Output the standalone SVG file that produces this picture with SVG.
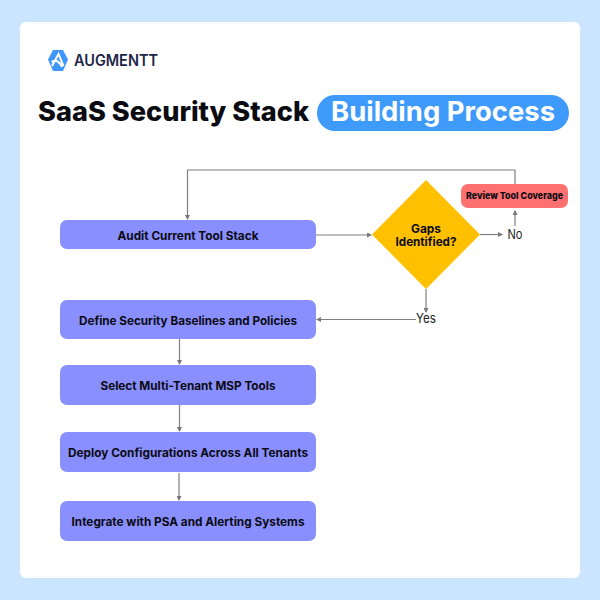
<svg xmlns="http://www.w3.org/2000/svg" width="600" height="600" viewBox="0 0 600 600">
<style>
text{font-family:"Inter","Liberation Sans",sans-serif;font-weight:700;fill:#0b0b12;text-anchor:middle}
.n{fill:#8a8fff}
.l{font-size:12px}
.c{fill:none;stroke:#808080;stroke-width:1.2}
.e{font-weight:400;font-size:13px;fill:#222}
</style>
<defs><marker id="a" markerWidth="5" markerHeight="5" refX="4" refY="2.500" orient="auto" markerUnits="userSpaceOnUse"><path d="M0 0L5 2.500L0 5Z" fill="#777"/></marker></defs>
<rect width="600" height="600" fill="#cce5ff"/>
<rect x="20" y="22" width="560" height="556" rx="6" fill="#fff"/>
<g id="logo">
<path d="M53 50H63L68 59.500L63 71H53L48 59.500Z" fill="#3f97fb"/>
<path d="M52 66L58.500 54L63.500 66M51.500 62C56 59 60 62 62 67" fill="none" stroke="#fff" stroke-width="2"/>
<text x="116" y="65.500" style="font-size:15.500px;fill:#1d2547;font-weight:600" textLength="84" lengthAdjust="spacingAndGlyphs">AUGMENTT</text>
</g>
<g id="title">
<text x="173.500" y="121" style="font-size:27px;font-weight:800" textLength="271" lengthAdjust="spacingAndGlyphs">SaaS Security Stack</text>
<rect x="317" y="95" width="252" height="36" rx="18" fill="#3f9bfb"/>
<text x="443" y="121" style="font-size:27px;fill:#fff;font-weight:700" textLength="224" lengthAdjust="spacingAndGlyphs">Building Process</text>
</g>
<g id="connectors">
<path class="c" d="M515 184V170H187.500V219" marker-end="url(#a)"/>
<path class="c" d="M316 235H371" marker-end="url(#a)"/>
<path class="c" d="M480 234.500H502" marker-end="url(#a)"/>
<path class="c" d="M515 226V211" marker-end="url(#a)"/>
<path class="c" d="M426 289V312" marker-end="url(#a)"/>
<path class="c" d="M416 319.500H317" marker-end="url(#a)"/>
<path class="c" d="M179.500 339V364" marker-end="url(#a)"/>
<path class="c" d="M179.500 405V431" marker-end="url(#a)"/>
<path class="c" d="M179 473V500" marker-end="url(#a)"/>
</g>
<g id="audit"><rect class="n" x="60" y="220" width="256" height="29" rx="7"/><text class="l" x="188" y="239.500" textLength="141" lengthAdjust="spacingAndGlyphs">Audit Current Tool Stack</text></g>
<g id="define"><rect class="n" x="60" y="300" width="256" height="39" rx="7"/><text class="l" x="188" y="324.500" textLength="218" lengthAdjust="spacingAndGlyphs">Define Security Baselines and Policies</text></g>
<g id="select"><rect class="n" x="60" y="365" width="256" height="40" rx="7"/><text class="l" x="188" y="389.500" textLength="175" lengthAdjust="spacingAndGlyphs">Select Multi-Tenant MSP Tools</text></g>
<g id="deploy"><rect class="n" x="60" y="432" width="256" height="40" rx="7"/><text class="l" x="188" y="456.500" textLength="240" lengthAdjust="spacingAndGlyphs">Deploy Configurations Across All Tenants</text></g>
<g id="integrate"><rect class="n" x="60" y="501" width="256" height="40" rx="7"/><text class="l" x="188" y="525.500" textLength="233" lengthAdjust="spacingAndGlyphs">Integrate with PSA and Alerting Systems</text></g>
<g id="gaps"><path d="M426 180L480 234.500L426 289L372 234.500Z" fill="#ffc000"/><text class="l" x="426" y="232.500" textLength="30" lengthAdjust="spacingAndGlyphs">Gaps</text><text class="l" x="426" y="246" textLength="61" lengthAdjust="spacingAndGlyphs">Identified?</text></g>
<g id="review"><rect x="461" y="184" width="107" height="24" rx="7" fill="#ff7070"/><text x="514.500" y="198.500" style="font-size:9.500px;font-weight:800" textLength="97" lengthAdjust="spacingAndGlyphs">Review Tool Coverage</text></g>
<text class="e" x="515" y="238.500" textLength="15" lengthAdjust="spacingAndGlyphs">No</text>
<text class="e" x="426" y="322.500" textLength="20" lengthAdjust="spacingAndGlyphs">Yes</text>
</svg>
